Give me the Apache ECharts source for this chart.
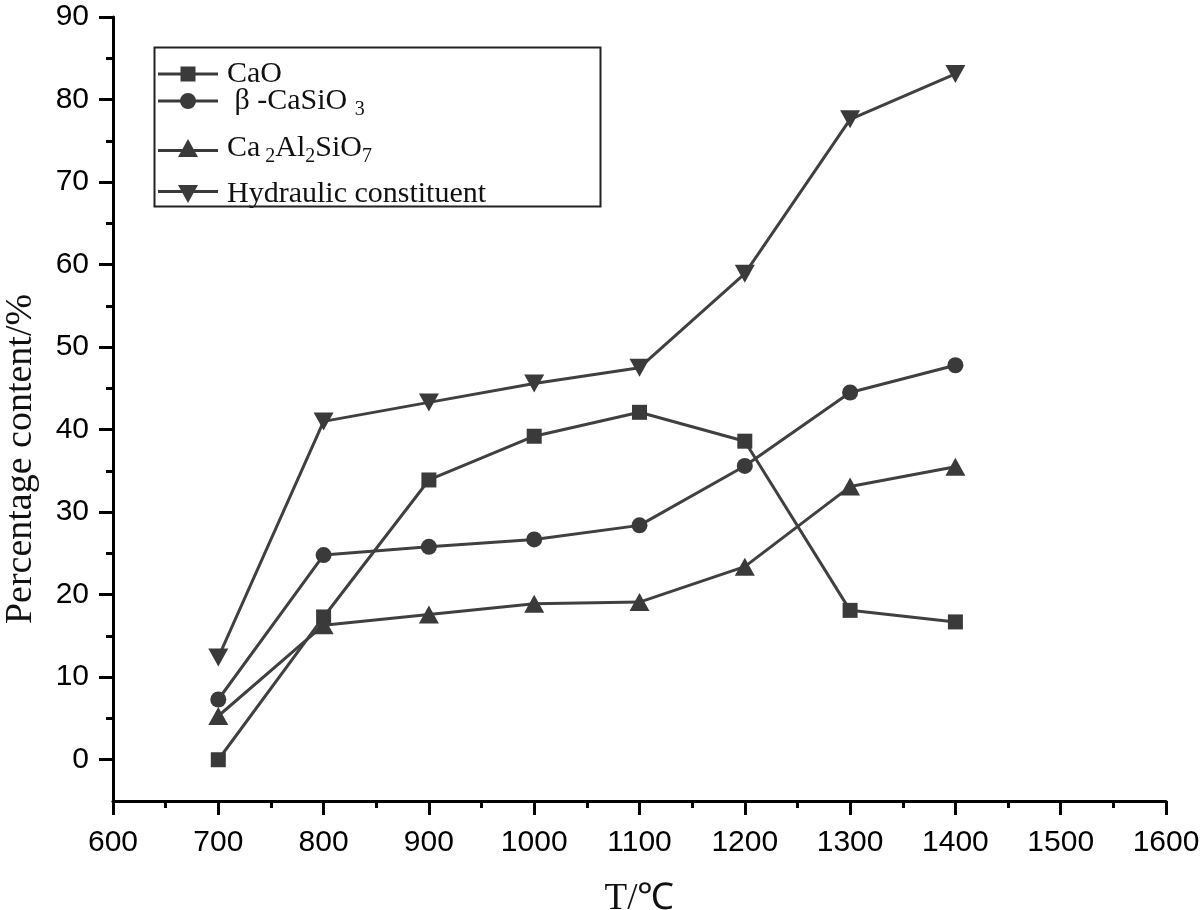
<!DOCTYPE html>
<html>
<head>
<meta charset="utf-8">
<script src="https://cdn.jsdelivr.net/npm/echarts@6/dist/echarts.min.js"></script>
<style>html,body{margin:0;padding:0;background:#fff}#c{width:1200px;height:910px}</style>
</head>
<body>
<div id="c"></div>
<script>
const temps = [700, 800, 900, 1000, 1100, 1200, 1300, 1400];
const cao = [0, 17.3, 33.9, 39.2, 42.1, 38.6, 18.1, 16.7];
const caSiO3 = [7.3, 24.8, 25.8, 26.7, 28.4, 35.6, 44.5, 47.8];
const gehlenite = [5.3, 16.3, 17.6, 18.9, 19.1, 23.4, 33.1, 35.5];
const hydraulic = [12.4, 41.0, 43.3, 45.6, 47.5, 58.9, 77.6, 83.1];
const yTickLabels = [0, 10, 20, 30, 40, 50, 60, 70, 80, 90];
const yMinorTicks = [5, 15, 25, 35, 45, 55, 65, 75, 85];

const names = ['CaO', 'bCaSiO3', 'Ca2Al2SiO7', 'Hydraulic constituent'];
const labels = {
  'CaO': 'CaO',
  'bCaSiO3': ' β -CaSiO {sub|3}',
  'Ca2Al2SiO7': 'Ca{sub| 2}Al{sub|2}SiO{sub|7}',
  'Hydraulic constituent': 'Hydraulic constituent'
};
const symbols = ['rect', 'circle', 'triangle', 'path://M0,0 L10,0 L5,9 Z'];
const symSizes = [15, 16, [20, 18], [20, 18]];
const seriesData = [cao, caSiO3, gehlenite, hydraulic];

// legend icons: line + marker drawn as one filled path (60 px wide)
const legendIcons = [
  'path://M0,6 L22.5,6 L22.5,9 L0,9 Z M22.5,0 L37.5,0 L37.5,15 L22.5,15 Z M37.5,6 L60,6 L60,9 L37.5,9 Z',
  'path://M0,6.5 L22.2,6.5 L22.2,9.5 L0,9.5 Z M22,8 A8,8 0 1,1 38,8 A8,8 0 1,1 22,8 Z M37.8,6.5 L60,6.5 L60,9.5 L37.8,9.5 Z',
  'path://M0,10 L25,10 L25,13 L0,13 Z M20,18 L30,0 L40,18 Z M35,10 L60,10 L60,13 L35,13 Z',
  'path://M0,5 L25,5 L25,8 L0,8 Z M20,0 L40,0 L30,18 Z M35,5 L60,5 L60,8 L35,8 Z'
];
const iconHeights = [15, 16, 18, 18];

const lineColor = '#404040';
const markColor = '#3a3a3a';
const serif = '"Liberation Serif", "Times New Roman", serif';
const sans = '"Liberation Sans", Arial, sans-serif';

const series = names.map((n, i) => ({
  name: n,
  type: 'line',
  data: temps.map((t, j) => [t, seriesData[i][j]]),
  symbol: symbols[i],
  symbolSize: symSizes[i],
  showAllSymbol: true,
  lineStyle: { color: lineColor, width: 3 },
  itemStyle: { color: markColor },
  z: 3
}));

const rowTops = [59, 86, 133, 179];
const legends = names.map((n, i) => ({
  data: [{ name: n, icon: legendIcons[i], itemStyle: { color: markColor } }],
  left: 158,
  top: rowTops[i],
  orient: 'vertical',
  padding: 0,
  itemWidth: 60,
  itemHeight: iconHeights[i],
  selectedMode: false,
  formatter: (name) => labels[name],
  textStyle: {
    fontFamily: serif,
    fontSize: 30,
    color: '#111',
    padding: [0, 0, 0, 4],
    rich: {
      sub: { fontFamily: serif, fontSize: 20, color: '#111', padding: [18, 0, 0, 0] }
    }
  }
}));

const chart = echarts.init(document.getElementById('c'));
chart.setOption({
  backgroundColor: '#fff',
  animation: false,
  grid: { left: 113, right: 34, top: 17, bottom: 109, containLabel: false, outerBoundsMode: 'none' },
  legend: legends,
  graphic: [{
    type: 'rect',
    left: 152, top: 45,
    shape: { width: 446, height: 159 },
    style: { fill: 'none', stroke: '#222', lineWidth: 2 },
    z: 10
  }],
  xAxis: {
    type: 'value',
    min: 600, max: 1600, interval: 100,
    name: 'T/℃',
    nameLocation: 'middle',
    nameGap: 80,
    nameTextStyle: { fontFamily: serif, fontSize: 37, color: '#111' },
    axisLine: { onZero: false, lineStyle: { color: '#000', width: 3 } },
    axisTick: { length: 14, lineStyle: { color: '#000', width: 3 } },
    minorTick: { show: true, splitNumber: 2, length: 7, lineStyle: { color: '#000', width: 3 } },
    axisLabel: { fontFamily: sans, fontSize: 30, color: '#000', margin: 27, formatter: (v) => String(v) },
    splitLine: { show: false }
  },
  yAxis: [{
    type: 'value',
    min: -5, max: 90,
    name: 'Percentage content/%',
    nameLocation: 'middle',
    nameGap: 73,
    nameTextStyle: { fontFamily: serif, fontSize: 38, color: '#111', padding: [0, 100, 0, 0] },
    axisLine: { show: true, onZero: false, lineStyle: { color: '#000', width: 3 } },
    axisTick: { show: true, length: 14, customValues: yTickLabels, lineStyle: { color: '#000', width: 3 } },
    axisLabel: { fontFamily: sans, fontSize: 30, color: '#000', margin: 24, customValues: yTickLabels, formatter: (v) => String(v) },
    splitLine: { show: false }
  }, {
    type: 'value',
    position: 'left',
    offset: 0,
    min: -5, max: 90,
    axisLine: { show: false, onZero: false },
    axisTick: { show: true, length: 7, customValues: yMinorTicks, lineStyle: { color: '#000', width: 3 } },
    axisLabel: { show: false },
    splitLine: { show: false }
  }],
  series: series
});
</script>
</body>
</html>
